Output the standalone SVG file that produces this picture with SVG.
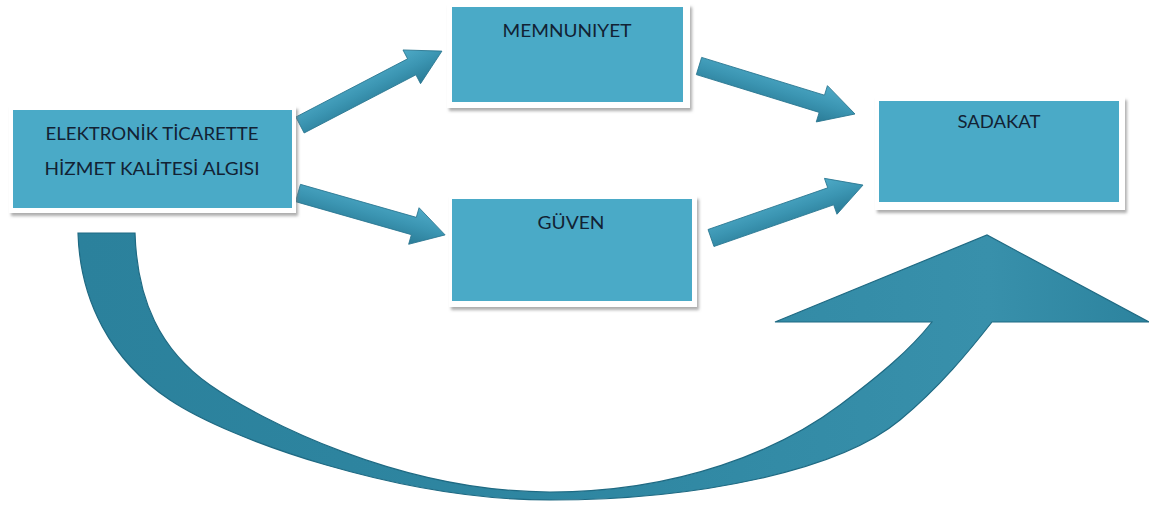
<svg xmlns="http://www.w3.org/2000/svg" xmlns:xlink="http://www.w3.org/1999/xlink" width="1149" height="508" viewBox="0 0 1149 508">
<defs>
<style>
.frame{fill:#ffffff;}
.box{fill:#4aaac7;}
.lbl{font-family:Lato,"Liberation Sans",sans-serif;font-size:17px;fill:#122234;text-anchor:middle;}
.arrow{fill:url(#ag);stroke:#2a7690;stroke-width:0.8;}
</style>
<linearGradient id="ag" x1="0" y1="0" x2="0" y2="1">
<stop offset="0" stop-color="#4eaac7"/>
<stop offset="0.5" stop-color="#3b95b2"/>
<stop offset="1" stop-color="#2a7b96"/>
</linearGradient>
<linearGradient id="bg" x1="0" y1="0" x2="1" y2="0">
<stop offset="0" stop-color="#2b819c"/>
<stop offset="0.5" stop-color="#2f87a2"/>
<stop offset="0.85" stop-color="#3890ab"/>
<stop offset="1" stop-color="#2c839e"/>
</linearGradient>
<filter id="sh" x="-5%" y="-5%" width="115%" height="120%">
<feDropShadow dx="2" dy="3" stdDeviation="1.5" flood-color="#777777" flood-opacity="0.6"/>
</filter>
<path id="arr" d="M0,-9 L126,-9 L126,-19 L160,0 L126,19 L126,9 L0,9 Z"/>
</defs>
<rect width="1149" height="508" fill="#ffffff"/>

<g id="connectors">
<path id="big-arrow" fill="url(#bg)" stroke="#1f6a83" stroke-width="1.2" d="M78,233 C80,300 110,360 170,400 C230,440 400,500 550,500 C700,500 840,470 900,420 C940,387 970,350 992,322 L1149,322 L987,235 L775,322 L932,322 C910,350 880,375 840,405 C780,450 680,492 550,492 C400,492 260,420 210,385 C160,350 137,300 135,233 Z"/>
<use xlink:href="#arr" href="#arr" class="arrow" transform="translate(300,125) rotate(-27.5) scale(1,1)"/>
<use xlink:href="#arr" href="#arr" class="arrow" transform="translate(298,193) rotate(15.9) scale(0.956,1)"/>
<use xlink:href="#arr" href="#arr" class="arrow" transform="translate(699,66) rotate(17.1) scale(1.02,1)"/>
<use xlink:href="#arr" href="#arr" class="arrow" transform="translate(711,238) rotate(-19.2) scale(1.006,1)"/>
</g>

<g id="node-eticaret">
<rect class="frame" x="9" y="106" width="287" height="107" filter="url(#sh)"/>
<rect class="box" x="13" y="110" width="279" height="98"/>
<text class="lbl" x="152" y="140" textLength="213" lengthAdjust="spacingAndGlyphs">ELEKTRONİK TİCARETTE</text>
<text class="lbl" x="152" y="175" textLength="215" lengthAdjust="spacingAndGlyphs">HİZMET KALİTESİ ALGISI</text>
</g>

<g id="node-memnuniyet">
<rect class="frame" x="447" y="4" width="243" height="104" filter="url(#sh)"/>
<rect class="box" x="452" y="7" width="231" height="95"/>
<text class="lbl" x="567" y="37" textLength="129" lengthAdjust="spacingAndGlyphs">MEMNUNIYET</text>
</g>

<g id="node-guven">
<rect class="frame" x="449" y="196" width="248" height="111" filter="url(#sh)"/>
<rect class="box" x="452" y="199" width="240" height="102"/>
<text class="lbl" x="571" y="229" textLength="67" lengthAdjust="spacingAndGlyphs">GÜVEN</text>
</g>

<g id="node-sadakat">
<rect class="frame" x="875" y="97" width="250" height="113" filter="url(#sh)"/>
<rect class="box" x="879" y="101" width="240" height="101"/>
<text class="lbl" x="999" y="128" textLength="83" lengthAdjust="spacingAndGlyphs">SADAKAT</text>
</g>
</svg>
